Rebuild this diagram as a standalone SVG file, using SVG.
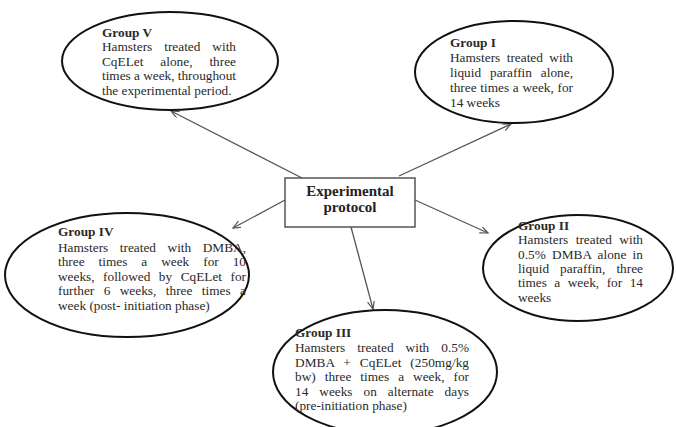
<svg xmlns="http://www.w3.org/2000/svg" width="676" height="427" viewBox="0 0 676 427">
<style>
.bg{fill:#fff}
.ell{fill:#fff;stroke:#111;stroke-width:2}
.box{fill:#fff;stroke:#555;stroke-width:1.5}
.t{font-family:"Liberation Serif","Times New Roman",serif;font-size:13.3px;fill:#2a2a2a}
.b{font-weight:bold}
.bx{font-family:"Liberation Serif","Times New Roman",serif;font-size:15px;font-weight:bold;fill:#222;text-anchor:middle}
.c{stroke:#555;stroke-width:1.3;fill:none}
</style>
<defs>
<marker id="ah" markerUnits="userSpaceOnUse" markerWidth="10" markerHeight="8" refX="8" refY="3.5" orient="auto">
<path d="M0,0 L8,3.5 L0,7" fill="none" stroke="#555" stroke-width="1.2"/>
</marker>
</defs>
<rect class="bg" x="0" y="0" width="676" height="427"/>
<g id="connectors">
<line class="c" x1="302" y1="178" x2="171" y2="111" marker-end="url(#ah)"/>
<line class="c" x1="399" y1="176" x2="511" y2="124" marker-end="url(#ah)"/>
<line class="c" x1="285" y1="200" x2="233" y2="228" marker-end="url(#ah)"/>
<line class="c" x1="415" y1="200" x2="488" y2="233" marker-end="url(#ah)"/>
<line class="c" x1="351" y1="227" x2="373" y2="309" marker-end="url(#ah)"/>
</g>
<g id="protocol">
<rect class="box" x="285" y="178" width="130" height="49"/>
<text class="bx" x="350" y="196">Experimental</text>
<text class="bx" x="350" y="212">protocol</text>
</g>
<g id="group5">
<ellipse class="ell" cx="170" cy="61" rx="108" ry="49"/>
<text class="t b" x="102" y="36.5">Group V</text>
<text class="t" x="102" y="51" word-spacing="8.6" textLength="134" lengthAdjust="spacing">Hamsters treated with</text>
<text class="t" x="102" y="65.5" word-spacing="13.6" textLength="134" lengthAdjust="spacing">CqELet alone, three</text>
<text class="t" x="102" y="80" textLength="134" lengthAdjust="spacing">times a week, throughout</text>
<text class="t" x="102" y="94.5">the experimental period.</text>
</g>
<g id="group1">
<ellipse class="ell" cx="514" cy="72" rx="99" ry="51"/>
<text class="t b" x="450" y="46.5">Group I</text>
<text class="t" x="450" y="62" word-spacing="3.1" textLength="123" lengthAdjust="spacing">Hamsters treated with</text>
<text class="t" x="450" y="77" word-spacing="5.5" textLength="123" lengthAdjust="spacing">liquid paraffin alone,</text>
<text class="t" x="450" y="92" word-spacing="0.4" textLength="123" lengthAdjust="spacing">three times a week, for</text>
<text class="t" x="450" y="107">14 weeks</text>
</g>
<g id="group4">
<ellipse class="ell" cx="127" cy="275" rx="122" ry="62"/>
<text class="t b" x="58" y="236">Group IV</text>
<text class="t" x="58" y="251.5" word-spacing="8.2" textLength="188" lengthAdjust="spacing">Hamsters treated with DMBA,</text>
<text class="t" x="58" y="266" word-spacing="10.6" textLength="188" lengthAdjust="spacing">three times a week for 10</text>
<text class="t" x="58" y="280.5" word-spacing="5.2" textLength="188" lengthAdjust="spacing">weeks, followed by CqELet for</text>
<text class="t" x="58" y="295" word-spacing="6.1" textLength="188" lengthAdjust="spacing">further 6 weeks, three times a</text>
<text class="t" x="58" y="309.5">week (post- initiation phase)</text>
</g>
<g id="group2">
<ellipse class="ell" cx="578" cy="268" rx="95" ry="53"/>
<text class="t b" x="518" y="229.5">Group II</text>
<text class="t" x="518" y="244.3" word-spacing="4.1" textLength="125" lengthAdjust="spacing">Hamsters treated with</text>
<text class="t" x="518" y="258.6" word-spacing="2.7" textLength="125" lengthAdjust="spacing">0.5% DMBA alone in</text>
<text class="t" x="518" y="272.9" word-spacing="7.7" textLength="125" lengthAdjust="spacing">liquid paraffin, three</text>
<text class="t" x="518" y="287.2" word-spacing="4.2" textLength="125" lengthAdjust="spacing">times a week, for 14</text>
<text class="t" x="518" y="301.5">weeks</text>
</g>
<g id="group3">
<ellipse class="ell" cx="385" cy="372" rx="112" ry="62"/>
<text class="t b" x="295" y="337">Group III</text>
<text class="t" x="295" y="352.3" word-spacing="8.7" textLength="174" lengthAdjust="spacing">Hamsters treated with 0.5%</text>
<text class="t" x="295" y="366.8" word-spacing="5.6" textLength="174" lengthAdjust="spacing">DMBA + CqELet (250mg/kg</text>
<text class="t" x="295" y="381.3" word-spacing="5.7" textLength="174" lengthAdjust="spacing">bw) three times a week, for</text>
<text class="t" x="295" y="395.8" word-spacing="7.7" textLength="174" lengthAdjust="spacing">14 weeks on alternate days</text>
<text class="t" x="295" y="410.3">(pre-initiation phase)</text>
</g>
</svg>
